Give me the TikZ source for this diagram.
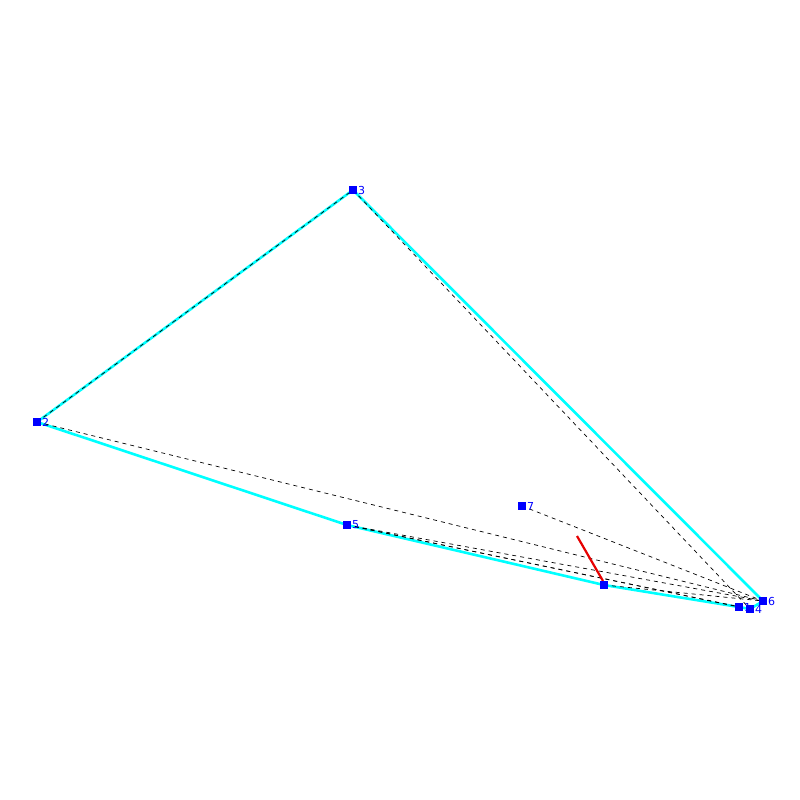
\documentclass[tikz,border=0pt]{standalone}
\usepackage{fontspec}
\setsansfont{DejaVu Sans}
\definecolor{hullcyan}{RGB}{0,255,255}
\definecolor{ptblue}{RGB}{0,0,255}
\definecolor{cutred}{RGB}{230,0,0}
\begin{document}
\begin{tikzpicture}[x=1pt,y=-1pt,
  pt/.style={fill=ptblue,draw=none,minimum size=8pt,inner sep=0pt,outer sep=0pt,rectangle},
  lbl/.style={text=ptblue,font=\sffamily\fontsize{11}{11}\selectfont,anchor=west,inner sep=0pt},
  hull/.style={hullcyan,line width=2.6pt,line join=round},
  edge/.style={black,line width=0.7pt,dash pattern=on 4pt off 4pt},
  cut/.style={cutred,line width=2.2pt}]
\useasboundingbox (0,0) rectangle (800,800);
\coordinate (c1) at (739,607);
\coordinate (c2) at (37,422);
\coordinate (c3) at (353,190);
\coordinate (c4) at (750,609);
\coordinate (c5) at (347,525);
\coordinate (c6) at (763,601);
\coordinate (c7) at (522,506);
\coordinate (cp) at (604,585);
\coordinate (ra) at (577,536);
\coordinate (rb) at (603,581);
\draw[hull] (c2) -- (c5) -- (cp) -- (c1) -- (c4) -- (c6) -- (c3) -- cycle;
\draw[edge] (c2) -- (c3);
\draw[edge] (c3) -- (c4);
\draw[edge] (c2) -- (c6);
\draw[edge] (c7) -- (c6);
\draw[edge] (c5) -- (c6);
\draw[edge] (c5) -- (c1);
\draw[edge] (c5) -- (c4);
\draw[edge] (cp) -- (c6);
\draw[cut] (ra) -- (rb);
\node[pt] (n1) at (c1) {};
\node[pt] (n2) at (c2) {};
\node[pt] (n3) at (c3) {};
\node[pt] (n4) at (c4) {};
\node[pt] (n5) at (c5) {};
\node[pt] (n6) at (c6) {};
\node[pt] (n7) at (c7) {};
\node[pt] (np) at (cp) {};
\node[lbl] (l1) at (744,607) {1};
\node[lbl] (l2) at (42,422) {2};
\node[lbl] (l3) at (358,190) {3};
\node[lbl] (l4) at (755,609) {4};
\node[lbl] (l5) at (352,525) {5};
\node[lbl] (l6) at (768,601) {6};
\node[lbl] (l7) at (527,506) {7};
\end{tikzpicture}
\end{document}
